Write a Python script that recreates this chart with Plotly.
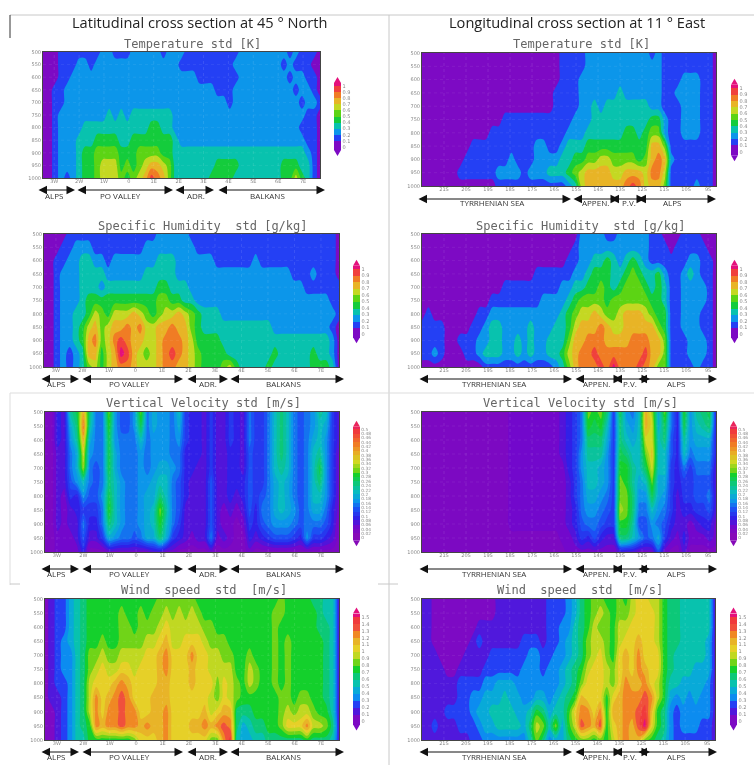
import numpy as np
import plotly.graph_objects as go

W, H = 754, 765
PLEV = [500, 550, 600, 650, 700, 750, 800, 850, 900, 950, 1000]
NCOL = 47

# Values: one character per grid cell = index of the contour band (base 36)
T_LAT = [
"000 1111111 22 111 22222 1 222 111111111 22222222 1 2 111 0",
"000 111 22 1 22222222222222 111111111 22222222 1 2 111 0",
"000 11 222222222222222222222 1111111 22222222 1 22 11 0",
"00 11 2222222222222222222222222 11 1 222222222 2 1 22 1 0",
"00 11 222222222222222222222222222 1 22222222222 1 2 2 1 0",
"001 2222222 23232 3333333 222222222222222222222 2 1 1 0",
"001 222 23 3333333333 44 33 222222222222222222222 1 1 1 0",
"001222 333 4444 33 4444444 3 222222222222222222222 110",
"001222 34 4 555 5 4 4 4 55 55 4 4 3 333333333333333333333 210",
"001222 34 45 66 6 4 5 4 5 67 76 5 3 333333 444 4 3333333 444 3 3 1 0",
"00 1 2 1 2 3 4 4 5 66 6 5 4 5 6 7 9 8 7 5 3 33333 4444 3 3333333 44 6 4 3 1 0",
]
T_LON = [
"0000000000000000000000 1111 2222222222 1 2 1111111 1 0",
"0000000000000000000000 1111 222222222222 11111111 0",
"0000000000000000000000 111 2222222222222 111 222 11 0",
"000000000000000000000 1111 222222 3 222222 11 2222 1 1 0",
"000000000000000000000 1111 22 3 2 3333333 2 2 111 222 1 1 0",
"0000000000000 11111111111 222 333333333 44 2 1 1 222 1 1 0",
"00000000000 111111111111 222 333333 44 34 55 2 1 1 222 1 1 0",
"00000000 1111111111 22 11 2 333 4444444444 77 5 111111 1 0",
"0000000 1111111 2 111 222 2 3 3 4 4 5566555545 787 2 111111 0",
"000000 111111 2222 1 2 2 2 333 4 5 6 7777 66 777 6 88 6 1 111111 0",
"000000000000 11111111111 2 3 6 7 7 7 7 7 7 8 9 8 6 7 7 5 1 1 1 1 2 1 1 0",
]
Q_LAT = [
"0000 11111111111111 22222 11111111111111111111111 0",
"000 11 222 11111111 22222222 1111111111111111111111 0",
"00 11 22 33 22 1 2222222 333 2222 22 111111 2 111111111111 0",
"00 1 222 3333 222222 33333 222222222222222222 111 2 111 0",
"00 1 222 333 2 33333333 44 333 222222222222222222 111111 0",
"00 1 222 3 44444444444 55 44 33 222222222222222222222 1 1 0",
"00 1 2 2 3 3 4 6 5 4 6 6 6 7 6 5 4 5 6 6 7 6 5 4 3 3 3 2 22222222222222222 1 1 0",
"00 1 2 2 3 4 6 7 5 6 7 7 8 7 8 6 6 7 7 8 7 7 5 4 3 3 3 3 3 3 3 3 3 3 3 2 2 2 2 2 2 2 2 2 1 0",
"00 1 2 2 3 4 7 8 5 6 8 9 8 7 7 6 6 7 8 8 8 7 6 4 4 4 4 3 3 3 3 3 3 3 3 3 3 3 3 3 3 3 3 3 2 0",
"00 1 2 1 2 3 7 7 4 6 7 a 9 7 6 5 6 7 8 9 8 7 6 5 4 4 4 4 3 3 3 3 3 3 3 4 3 3 3 3 3 4 3 3 2 0",
"00 1 2 1 2 3 5 6 4 6 7 8 8 7 6 6 6 7 8 8 7 7 6 5 4 4 4 5 6 4 3 3 3 3 4 3 3 3 3 3 3 4 4 4 3 0",
]
Q_LON = [
"0000000000000000000000000 2222 11 22222 11 000 111 000",
"000000000000000000000000 1 22222222222 111 0 1111100",
"00000000000000000000000 1 1 2 2 3 3 4 3 2 3 4 3 2 1 1 1 1 1 1 2 2 1 1 0",
"000000000000000000 111111 2 2 3 4 4 4 3 3 4 5 4 3 3 4 2 1 1 2 3 2 1 1 0",
"0000000000000 111111111 2 2 3 3 4 4 5 4 3 4 5 5 5 4 3 4 3 1 1 2 2 2 2 1 0",
"00000000000 11111111 2 2 2 2 3 4 5 5 5 5 4 5 5 5 5 5 5 4 4 3 1 1 2 2 2 2 1 0",
"0 1 0000000 1 1 222222 2 2222 3 4 5 6 6 7 6 5 5 6 7 7 7 6 5 4 4 1 1 2 2 2 1 1 0",
"1111 0000 11 2 33 2222 3 222 3 3 4 6 7 7 7 8 7 6 6 7 7 7 7 7 5 4 1 1 2 2 2 1 1 0",
"1 1 1 1 0 0 1 1 1 2 2 3 3 2 2 3 2 3 2 2 3 3 3 5 7 7 8 8 8 7 7 7 7 8 8 8 7 7 5 1 1 1 2 2 2 1 0",
"1 1 2 1 0 0 0 1 1 2 3 3 3 2 2 3 2 3 2 2 3 3 4 6 7 8 8 9 8 8 8 8 8 8 8 9 7 7 5 1 1 1 2 2 2 1 0",
"0 0 0 0 0 0 0 0 0 0 1 1 1 1 1 1 1 1 1 1 1 2 3 5 7 8 8 8 9 8 a 8 8 8 9 8 7 5 5 1 1 1 1 2 1 1 0",
]
W_LAT = [
"1 1 4 3 b d j c 7 7 f 8 6 6 8 f 7 9 8 8 7 a 5 4 4 3 5 3 3 5 4 3 7 5 5 7 a c a 7 6 7 8 b a 5 3",
"1 1 4 3 9 c l b 7 7 e 8 6 6 8 d 7 9 8 8 7 9 5 4 4 3 5 3 3 5 4 3 7 5 5 7 a c a 7 6 7 8 a 9 5 3",
"1 1 4 3 8 b j 9 7 7 d 8 7 7 7 a 7 8 8 8 7 8 5 4 4 3 5 3 3 5 4 3 7 5 5 7 a c a 7 6 7 9 a 8 5 3",
"1 1 3 3 7 9 h 8 7 7 d 9 7 7 7 8 7 8 8 8 7 7 4 4 4 3 5 3 3 4 4 3 6 5 5 7 a c a 7 6 7 a b 8 5 2",
"1 1 3 3 7 9 g 7 6 7 d 9 7 7 7 8 7 8 9 9 8 7 4 4 3 3 5 3 3 4 4 3 6 5 5 7 a b a 7 6 7 a d 8 5 2",
"1 1 3 3 6 8 a 7 6 7 c a 8 7 7 8 8 9 a a 7 6 4 3 3 3 6 3 3 4 4 4 6 5 5 7 9 a 9 7 6 7 a c 8 5 2",
"1 1 3 2 5 4 8 6 6 8 d a 8 7 7 8 9 9 c a 7 6 4 3 3 3 6 3 3 4 3 4 6 5 6 7 9 a 9 7 6 7 a a 8 5 2",
"1 1 3 2 3 4 5 5 5 7 e a 8 7 7 8 9 a f b 7 6 3 3 3 3 6 3 2 3 2 3 6 4 7 7 9 a 9 8 6 7 9 9 7 4 2",
"1 1 3 2 3 3 7 4 4 7 c a 8 7 7 8 9 a e a 7 5 3 3 3 3 6 3 2 2 1 2 5 4 6 7 8 8 8 7 6 7 7 7 6 4 1",
"1 1 2 2 2 3 6 3 3 5 9 8 7 7 6 7 9 9 c 9 5 4 3 2 3 3 7 2 3 2 1 1 4 3 4 5 6 6 6 5 4 8 5 5 4 3 1",
"1 1 2 2 2 2 4 1 1 1 2 2 2 2 2 2 2 3 3 2 2 1 1 1 1 1 2 1 1 1 1 1 2 1 1 1 1 1 1 1 1 1 1 1 1 1 1",
]
W_LON = [
"11111111111111 22222222 3 4 5 7 f e f c 5 d 8 7 a j g 9 f 7 4 e 8 b c d 4",
"11111111111111 22222222 3 4 5 7 e d e a 5 c 9 8 a j h 9 d 7 4 d 8 a b c 4",
"11111111111111 22222222 3 4 5 7 c c c 9 5 c a 9 a h h a c 6 4 b 8 9 9 9 4",
"11111111111111 22222222 3 4 5 8 b b b 8 5 d c a a f i a a 6 4 a 7 8 8 8 4",
"11111111111111 22222222 2 4 5 8 a a 9 8 5 e e b a d h a a 5 4 7 5 7 7 7 3",
"11111111111111 22222222 2 3 5 7 a a 9 8 5 f e b 9 a f 9 9 5 4 5 5 6 6 6 3",
"11111111111111 22222222 2 3 5 7 9 9 8 7 5 f f c 8 8 d 9 8 5 3 5 5 6 6 7 3",
"11111111111111 22222222 2 3 4 7 8 8 7 6 5 g f c 7 7 a 8 7 5 3 4 4 5 5 6 3",
"11111111111111 22222222 2 3 4 6 7 7 6 5 5 e e b 6 6 8 7 6 4 3 3 2 3 4 4 2",
"11111111111111 11111111 2 2 3 5 4 6 4 3 3 c c a 8 6 7 9 5 3 2 4 2 2 2 3 2",
"11111111111111 11111111 1 2 2 2 2 2 2 2 2 3 3 3 2 2 2 6 2 1 1 3 1 1 1 1 1",
]
S_LAT = [
"0 1 2 2 4 5 6 7 7 7 7 7 7 7 7 7 7 7 8 8 8 8 8 8 7 7 7 7 7 7 7 7 7 7 7 7 7 8 7 7 7 7 6 6 5 5 1",
"0 1 2 2 4 5 6 7 7 7 7 7 8 7 7 8 7 8 8 9 8 9 8 9 8 7 7 7 7 7 7 7 7 7 7 7 8 8 7 7 7 7 7 6 5 5 1",
"0 1 2 2 4 5 6 7 7 7 7 7 8 8 7 8 8 8 9 a 9 9 9 9 9 8 8 7 7 7 7 7 7 7 7 7 8 7 7 7 7 7 7 6 6 5 1",
"0 1 2 3 4 5 6 7 7 8 7 7 8 8 8 8 9 9 a b 9 9 a a a 9 8 8 8 7 7 7 7 7 7 7 8 7 8 7 7 7 7 7 6 5 1",
"0 1 2 3 3 5 6 8 8 9 8 8 9 9 9 9 a a b c a a a c a a 9 9 8 8 7 7 8 7 7 7 8 7 8 7 7 7 7 7 6 5 1",
"0 1 2 3 3 5 6 8 9 a 9 9 a a 9 a a a b c a a a b a a 9 9 9 9 7 7 9 8 7 7 8 7 8 7 7 7 7 7 6 5 1",
"0 1 2 2 3 5 6 9 a a a b c b a a a a b b a a a b a a a 8 a 9 8 7 9 8 7 7 8 7 8 7 7 7 7 7 6 5 1",
"0 1 1 2 3 5 6 9 c a b c d c a a a b b b a a a a a a 9 8 a 9 8 7 7 7 7 7 7 8 8 7 8 8 7 7 6 5 1",
"0 0 1 2 3 5 6 9 c a c c d c c a a b b c a a a a a b 9 a b b 6 6 6 7 7 7 7 8 9 8 9 9 8 7 7 5 1",
"0 0 1 2 3 5 6 7 c b c c d c c b c b b c a a a b b c b c d c 6 4 5 6 6 7 7 8 a a a c 9 9 8 6 1",
"0 0 1 2 3 5 5 7 7 7 7 7 7 7 8 a a a b c a a a a a a 8 8 c e 5 4 4 5 5 6 6 6 6 6 6 7 6 6 6 5 1",
]
S_LON = [
"1 1 0 0 0 0 0 0 0 0 0 0 1 1 1 1 1 1 1 1 2 2 2 3 4 6 7 8 8 7 7 8 7 9 a a 9 9 7 6 6 5 5 5 5 5 1",
"1 1 0 0 0 0 0 0 0 0 0 0 1 1 1 1 1 1 1 1 2 2 2 3 4 6 7 8 9 8 7 8 8 9 a a a 9 7 6 6 5 5 5 5 5 1",
"1 1 0 0 0 0 0 0 0 1 1 1 1 1 1 1 1 1 1 1 2 2 3 3 5 6 7 9 8 8 7 9 9 a a a a 9 7 6 6 5 5 5 5 5 1",
"1 1 0 0 0 0 0 0 1 2 1 1 1 1 1 1 2 2 2 1 2 2 3 4 5 6 8 9 9 8 7 9 a a b a a 9 7 6 6 5 5 5 5 4 1",
"1 1 1 0 0 0 0 1 1 1 1 2 2 2 2 2 2 3 3 2 2 3 3 4 5 6 8 9 a 8 7 a b a c a a a 7 6 5 5 5 5 5 4 1",
"1 1 1 1 0 0 1 1 1 1 2 2 2 2 2 2 3 3 3 2 3 3 4 5 6 7 9 a a 9 8 a b a c b a a 7 6 5 5 5 4 4 4 1",
"1 1 1 1 1 1 2 2 2 2 3 3 4 4 4 3 3 3 3 3 3 3 4 5 6 8 a a a 9 8 a c b b c a 9 7 5 5 4 4 4 4 3 1",
"1 1 1 1 1 1 2 2 3 3 4 4 4 5 4 4 3 3 4 4 3 4 5 6 7 b a a a 7 a b c c c d c 9 7 4 3 4 3 4 3 3 1",
"1 1 1 1 2 2 2 2 3 4 4 5 5 5 5 4 4 5 7 6 4 5 5 7 a c c a c 7 b b c c d e b 7 6 3 2 3 3 3 3 3 1",
"1 1 2 1 1 1 2 2 2 3 4 4 5 5 5 5 4 6 9 8 5 8 4 7 9 d c b d 7 a b c b d f a 7 6 3 2 3 3 3 2 2 1",
"1 1 1 1 1 1 1 1 2 2 3 3 3 3 3 3 3 5 8 6 3 4 4 6 7 8 8 7 8 7 9 b c b b 8 7 6 5 3 2 2 2 2 2 2 1",
]

LAT_TICKS = [-3, -2, -1, 0, 1, 2, 3, 4, 5, 6, 7]
LAT_LABELS = ["3W", "2W", "1W", "0", "1E", "2E", "3E", "4E", "5E", "6E", "7E"]
LON_TICKS = [21, 20, 19, 18, 17, 16, 15, 14, 13, 12, 11, 10, 9]
LON_LABELS = ["21S", "20S", "19S", "18S", "17S", "16S", "15S", "14S", "13S", "12S", "11S", "10S", "9S"]
LAT_RANGE = [-3.45, 7.68]
LON_RANGE = [22.0, 8.64]

# colour tables: below-range, one per band, above-range
C_10 = ["#7d0ac4", "#7d0ac4", "#2440f4", "#0c96ea", "#08c2ae", "#14cc3c", "#5cd414",
        "#c4d822", "#e8b426", "#f07c24", "#f0403c", "#e4107c"]
C_15 = ["#7d0ac4", "#7d0ac4", "#5018dc", "#2440f4", "#0c8cf0", "#08aad8", "#08c2ae", "#0cc878",
        "#14d02c", "#70d418", "#c0d822", "#e6d028", "#e8b428", "#f08824", "#f0503c", "#f03a3c", "#e4107c"]
ANCH = [(0, "#860ab8"), (2, "#7208cc"), (4, "#3020e8"), (6, "#1c50f4"), (8, "#0c96ea"),
        (10, "#08bcc0"), (12, "#0cc878"), (14, "#14d02c"), (15, "#70d418"), (17, "#d0d822"),
        (19, "#e8ac26"), (21, "#f07c24"), (24, "#f03a3c"), (26, "#e4107c")]


def _hex(c):
    return [int(c[i:i + 2], 16) for i in (1, 3, 5)]


def c_25():
    xs = [a[0] for a in ANCH]
    rgb = np.array([_hex(a[1]) for a in ANCH], float)
    out = ["#860ab8"]
    for k in range(26):
        out.append("#%02x%02x%02x" % tuple(int(np.interp(k, xs, rgb[:, j])) for j in range(3)))
    return out


C_25 = c_25()


def grid(rows, step):
    m = []
    for r in rows:
        s = r.replace(" ", "")
        s = (s + s[-1] * NCOL)[:NCOL]
        m.append([(int(ch, 36) + 0.5) * step for ch in s])
    return m


def fmt(v):
    return ("%.2f" % v).rstrip("0").rstrip(".")


PANELS = [
    dict(rows=T_LAT, step=.1, n=10, colors=C_10, box=(43, 320, 52, 178), kind="lat", bar=(334, 86, 147),
         title="Temperature std [K]", tx=192, ty=44, ay=190, ly=196),
    dict(rows=T_LON, step=.1, n=10, colors=C_10, box=(422, 716, 53, 186), kind="lon", bar=(731, 88, 152),
         title="Temperature std [K]", tx=581, ty=44, ay=199, ly=203),
    dict(rows=Q_LAT, step=.1, n=10, colors=C_10, box=(44, 339, 234, 367), kind="lat", bar=(353, 269, 334),
         title="Specific Humidity  std [g/kg]", tx=203, ty=226, ay=379, ly=383),
    dict(rows=Q_LON, step=.1, n=10, colors=C_10, box=(422, 716, 234, 367), kind="lon", bar=(731, 269, 334),
         title="Specific Humidity  std [g/kg]", tx=581, ty=226, ay=379, ly=383),
    dict(rows=W_LAT, step=.02, n=25, colors=C_25, box=(45, 339, 412, 552), kind="lat", bar=(353, 429, 538),
         title="Vertical Velocity std [m/s]", tx=203, ty=403, ay=569, ly=573),
    dict(rows=W_LON, step=.02, n=25, colors=C_25, box=(422, 716, 412, 552), kind="lon", bar=(730, 429, 538),
         title="Vertical Velocity std [m/s]", tx=580, ty=403, ay=569, ly=573),
    dict(rows=S_LAT, step=.1, n=15, colors=C_15, box=(45, 339, 599, 740), kind="lat", bar=(353, 617, 721),
         title="Wind  speed  std  [m/s]", tx=204, ty=590, ay=752, ly=756),
    dict(rows=S_LON, step=.1, n=15, colors=C_15, box=(422, 715, 599, 740), kind="lon", bar=(730, 617, 721),
         title="Wind  speed  std  [m/s]", tx=580, ty=590, ay=752, ly=756),
]

# region arrows: label, start px, end px, label centre px
REG_LAT = {
    190: [("ALPS", 37, 75, 54), ("PO VALLEY", 76, 173, 121), ("ADR.", 174, 214, 196), ("BALKANS", 217, 325, 267)],
    0: [("ALPS", 40, 79, 56), ("PO VALLEY", 81, 183, 129), ("ADR.", 186, 228, 208), ("BALKANS", 229, 344, 283)],
}
REG_LON = {
    199: [("TYRRHENIAN SEA", 417, 571, 492), ("APPEN.", 572, 619, 595), ("P.V.", 609, 645, 629), ("ALPS", 636, 716, 672)],
    0: [("TYRRHENIAN SEA", 418, 572, 494), ("APPEN.", 574, 622, 596), ("P.V.", 612, 650, 630), ("ALPS", 637, 717, 676)],
}

fig = go.Figure()
annotations, shapes, lay = [], [], {}


def px(x):
    return x / W


def py(y):
    return 1 - y / H


for i, p in enumerate(PANELS, 1):
    sfx = "" if i == 1 else str(i)
    x0, x1, y0, y1 = p["box"]
    rng = LAT_RANGE if p["kind"] == "lat" else LON_RANGE
    ticks = LAT_TICKS if p["kind"] == "lat" else LON_TICKS
    labels = LAT_LABELS if p["kind"] == "lat" else LON_LABELS
    step, n = p["step"], p["n"]
    levels = [k * step for k in range(n + 1)]
    bx, by0, by1 = p["bar"]
    span = (by1 - by0) * (n + 1) / n
    mid = (by0 + by1) / 2
    fig.add_trace(go.Contour(
        x=np.linspace(rng[0], rng[1], NCOL), y=PLEV, z=grid(p["rows"], step),
        xaxis=f"x{sfx}", yaxis=f"y{sfx}",
        autocontour=False,
        contours=dict(start=0, end=n * step, size=step, coloring="fill", showlines=False),
        line=dict(width=0),
        colorscale=[[k / (len(p["colors"]) - 1), c] for k, c in enumerate(p["colors"])],
        hoverinfo="skip",
        colorbar=dict(x=px(bx), xanchor="left", xref="paper", y=py(mid), yanchor="middle", yref="paper",
                      len=span / H, lenmode="fraction", thickness=7, thicknessmode="pixels",
                      outlinewidth=0, borderwidth=0, xpad=0, ypad=0, ticks="", ticklen=0,
                      tickmode="array", tickvals=levels, ticktext=[fmt(v) for v in levels],
                      tickfont=dict(size=4.3 if n == 25 else 5, family="DejaVu Sans", color="#888888")),
    ))
    lay[f"xaxis{sfx}"] = dict(domain=[px(x0), px(x1)], range=rng, anchor=f"y{sfx}", tickmode="array",
                              tickvals=ticks, ticktext=labels, ticks="", showgrid=False, zeroline=False,
                              ticklabelstandoff=-2,
                              tickfont=dict(size=5, family="DejaVu Sans", color="#888888"),
                              showline=True, mirror=True, linecolor="#444444", linewidth=1)
    lay[f"yaxis{sfx}"] = dict(domain=[py(y1), py(y0)], range=[1000, 500], anchor=f"x{sfx}", tickmode="array",
                              tickvals=PLEV, ticktext=[str(v) for v in PLEV], ticks="", showgrid=False, zeroline=False,
                              tickfont=dict(size=5, family="DejaVu Sans", color="#888888"),
                              showline=True, mirror=True, linecolor="#444444", linewidth=1)
    annotations.append(dict(text=p["title"].replace("  ", "\u00a0\u00a0"), x=px(p["tx"]), y=py(p["ty"]),
                            xref="paper", yref="paper", xanchor="center", yanchor="middle", showarrow=False,
                            font=dict(family="DejaVu Sans Mono", size=12, color="#666666")))
    # colour bar end triangles
    cl, cr = bx, bx + 7
    top = (by0 - (span - (by1 - by0)) / 2)
    bot = (by1 + (span - (by1 - by0)) / 2)
    for yb, yt, col in ((top, top - 6, p["colors"][-1]), (bot, bot + 6, p["colors"][0])):
        shapes.append(dict(type="path", xref="paper", yref="paper", line=dict(width=0), fillcolor=col,
                           path=f"M {px(cl)} {py(yb)} L {px(cr)} {py(yb)} L {px((cl + cr) / 2)} {py(yt)} Z"))
    # faint dotted grid over the filled contours
    for t in ticks:
        shapes.append(dict(type="line", xref=f"x{sfx}", yref=f"y{sfx} domain", x0=t, x1=t, y0=0, y1=1,
                           line=dict(color="rgba(255,255,255,0.18)", width=0.6, dash="dot"), layer="above"))
    for v in PLEV[1:-1]:
        shapes.append(dict(type="line", xref=f"x{sfx} domain", yref=f"y{sfx}", x0=0, x1=1, y0=v, y1=v,
                           line=dict(color="rgba(255,255,255,0.12)", width=0.6, dash="dot"), layer="above"))
    # region arrows
    table = REG_LAT if p["kind"] == "lat" else REG_LON
    regs = table.get(p["ay"], table[0])
    for name, a, b, lx in regs:
        annotations.append(dict(text="", x=px(b), y=py(p["ay"]), xref="paper", yref="paper",
                                ax=a - b, ay=0, axref="pixel", ayref="pixel", showarrow=True,
                                arrowside="end+start", arrowhead=2, arrowsize=1.7, arrowwidth=1, arrowcolor="#111111",
                                standoff=0, startstandoff=0, startarrowhead=2, startarrowsize=1.7))
        annotations.append(dict(text=name, x=px(lx), y=py(p["ly"]), xref="paper", yref="paper",
                                xanchor="center", yanchor="middle", showarrow=False,
                                font=dict(family="Open Sans", size=8, color="#333333")))

for txt, cx in (("Latitudinal cross section at 45 ° North", 199), ("Longitudinal cross section at 11 ° East", 577)):
    annotations.append(dict(text=txt, x=px(cx), y=py(22), xref="paper", yref="paper", xanchor="center",
                            yanchor="middle", showarrow=False, font=dict(family="Open Sans", size=14.6, color="#222222")))

for x_0, y_0, x_1, y_1, col in ((10, 15, 754, 15, "#c8c8c8"), (10, 15, 10, 38, "#333333"),
                                (389, 15, 389, 765, "#c8c8c8"), (10, 393, 754, 393, "#dddddd"),
                                (10, 393, 10, 585, "#dddddd"), (10, 584, 20, 584, "#c8c8c8"),
                                (378, 584, 398, 584, "#c8c8c8")):
    shapes.append(dict(type="line", xref="paper", yref="paper", x0=px(x_0), y0=py(y_0), x1=px(x_1), y1=py(y_1),
                       line=dict(color=col, width=1)))

fig.update_layout(width=W, height=H, margin=dict(l=0, r=0, t=0, b=0, pad=0, autoexpand=False),
                  paper_bgcolor="white", plot_bgcolor="white", showlegend=False,
                  annotations=annotations, shapes=shapes, **lay)
fig.write_html("out.html", config={"displayModeBar": False},
               post_script="document.body.style.margin='0';"
                           "document.querySelector('.plotly-graph-div').style.filter='blur(0.55px)';")
